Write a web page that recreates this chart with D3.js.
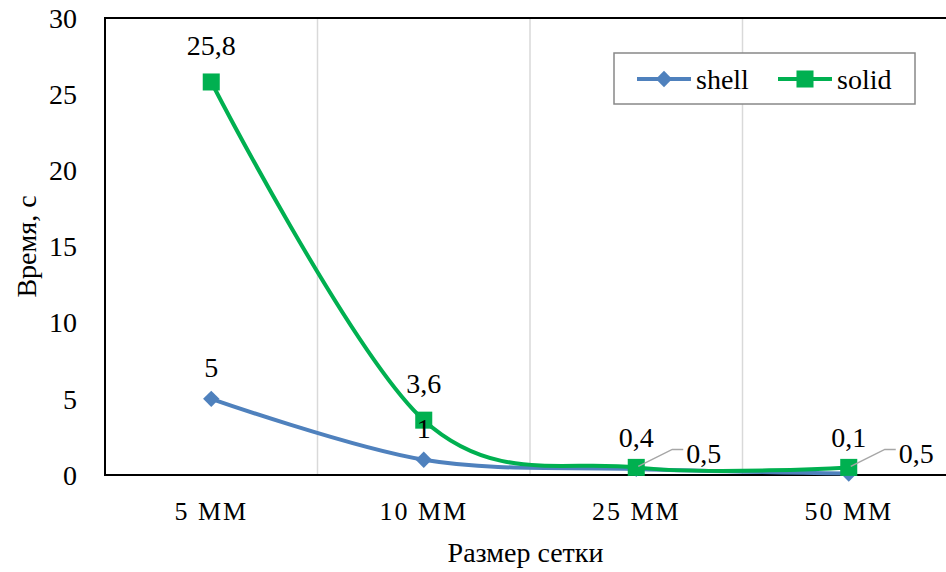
<!DOCTYPE html>
<html>
<head>
<meta charset="UTF-8">
<script src="https://cdn.jsdelivr.net/npm/d3@7"></script>
</head>
<body style="margin:0">
<svg></svg>
<script>
    // data
    const categories = ['5 ММ', '10 ММ', '25 ММ', '50 ММ'];
    const shellValues = [5, 1, 0.4, 0.1];
    const solidValues = [25.8, 3.6, 0.5, 0.5];
    const yTicks = [0, 5, 10, 15, 20, 25, 30];

    const width = 946, height = 572;
    const plot = { left: 105, top: 18, right: 955, bottom: 475 };

    const svg = d3.select('svg')
        .attr('width', width)
        .attr('height', height)
        .attr('font-family', 'Liberation Serif')
        .style('font-family', '"Liberation Serif", Tinos, serif');

    // helper so every label gets the serif face
    const label = (sel, size) => sel
        .attr('font-family', 'Liberation Serif')
        .style('font-family', '"Liberation Serif", Tinos, serif')
        .style('font-size', size + 'px')
        .attr('fill', '#000');

    const x = d3.scalePoint()
        .domain(categories)
        .range([plot.left, plot.right])
        .padding(0.5);
    const y = d3.scaleLinear()
        .domain([0, 30])
        .range([plot.bottom, plot.top]);

    const fmt = v => String(v).replace('.', ',');

    // vertical gridlines between categories
    const step = x.step();
    svg.append('g')
        .selectAll('line')
        .data(categories.slice(1))
        .join('line')
        .attr('x1', d => x(d) - step / 2)
        .attr('x2', d => x(d) - step / 2)
        .attr('y1', plot.top)
        .attr('y2', plot.bottom)
        .attr('stroke', '#d9d9d9')
        .attr('stroke-width', 1.5);

    // plot frame
    svg.append('rect')
        .attr('x', plot.left)
        .attr('y', plot.top)
        .attr('width', plot.right - plot.left)
        .attr('height', plot.bottom - plot.top)
        .attr('fill', 'none')
        .attr('stroke', '#000')
        .attr('stroke-width', 2);

    // y tick labels
    svg.append('g')
        .selectAll('text')
        .data(yTicks)
        .join('text')
        .attr('x', 77)
        .attr('y', d => y(d))
        .attr('dy', '0.35em')
        .attr('text-anchor', 'end')
        .call(label, 28)
        .text(d => d);

    // x tick labels
    svg.append('g')
        .selectAll('text')
        .data(categories)
        .join('text')
        .attr('x', d => x(d))
        .attr('y', 520)
        .attr('text-anchor', 'middle')
        .attr('letter-spacing', 2)
        .call(label, 26)
        .text(d => d);

    // axis titles
    svg.append('text')
        .attr('x', (plot.left + 946) / 2)
        .attr('y', 562)
        .attr('text-anchor', 'middle')
        .call(label, 28)
        .text('Размер сетки');
    svg.append('text')
        .attr('transform', `translate(36, ${(plot.top + plot.bottom) / 2}) rotate(-90)`)
        .attr('text-anchor', 'middle')
        .call(label, 28)
        .text('Время, с');

    const line = d3.line()
        .x((d, i) => x(categories[i]))
        .y(d => y(d))
        .curve(d3.curveCardinal.tension(0));

    const series = [
        { name: 'shell', values: shellValues, color: '#4f81bd', symbol: d3.symbolDiamond2, size: 170 },
        { name: 'solid', values: solidValues, color: '#00b050', symbol: d3.symbolSquare, size: 290 }
    ];

    series.forEach(s => {
        svg.append('path')
            .datum(s.values)
            .attr('fill', 'none')
            .attr('stroke', s.color)
            .attr('stroke-width', 4)
            .attr('d', line);
    });
    series.forEach(s => {
        svg.append('g')
            .selectAll('path')
            .data(s.values)
            .join('path')
            .attr('transform', (d, i) => `translate(${x(categories[i])}, ${y(d)})`)
            .attr('d', d3.symbol(s.symbol, s.size))
            .attr('fill', s.color);
    });

    // data labels: shell above its point
    svg.append('g')
        .selectAll('text')
        .data(shellValues)
        .join('text')
        .attr('x', (d, i) => x(categories[i]))
        .attr('y', (d, i) => i < 2 ? y(d) - 22 : 447)
        .attr('text-anchor', 'middle')
        .call(label, 28)
        .text(d => fmt(d));

    // solid labels: above for the first two, with leader lines for the rest
    const solidLabels = svg.append('g');
    solidValues.forEach((d, i) => {
        const cx = x(categories[i]), cy = y(d);
        if (i < 2) {
            solidLabels.append('text')
                .attr('x', cx)
                .attr('y', cy - 27)
                .attr('text-anchor', 'middle')
                .call(label, 28)
                .text(fmt(d));
        } else {
            solidLabels.append('polyline')
                .attr('points', `${cx + 2},${cy - 1} ${cx + 36},${cy - 18} ${cx + 47},${cy - 18}`)
                .attr('fill', 'none')
                .attr('stroke', '#a6a6a6')
                .attr('stroke-width', 1.5);
            solidLabels.append('text')
                .attr('x', cx + 50)
                .attr('y', cy - 4)
                .call(label, 28)
                .text(fmt(d));
        }
    });

    // legend
    const legend = svg.append('g');
    legend.append('rect')
        .attr('x', 614)
        .attr('y', 53)
        .attr('width', 301)
        .attr('height', 51)
        .attr('fill', '#fff')
        .attr('stroke', '#888')
        .attr('stroke-width', 1.5);
    const legendX = [637, 778];
    series.forEach((s, i) => {
        const g = legend.append('g').attr('transform', `translate(${legendX[i]}, 79)`);
        g.append('line')
            .attr('x2', 54)
            .attr('stroke', s.color)
            .attr('stroke-width', 4);
        g.append('path')
            .attr('transform', 'translate(27, 0)')
            .attr('d', d3.symbol(s.symbol, s.size))
            .attr('fill', s.color);
        g.append('text')
            .attr('x', 59)
            .attr('dy', '0.35em')
            .call(label, 28)
            .text(s.name);
    });
</script>
</body>
</html>
